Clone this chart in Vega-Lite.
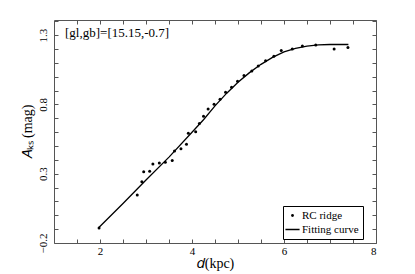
{
  "$schema": "https://vega.github.io/schema/vega-lite/v6.json",
  "width": 322,
  "height": 223,
  "autosize": "none",
  "padding": {"left": 54, "top": 20, "right": 39, "bottom": 31},
  "background": "white",
  "config": {
    "font": "Liberation Serif",
    "view": {"stroke": null},
    "axis": {
      "grid": false,
      "domainColor": "#555555",
      "tickColor": "#555555",
      "tickSize": -4,
      "labelFont": "Liberation Serif",
      "labelFontSize": 11,
      "labelColor": "black",
      "titleFont": "Liberation Serif",
      "titleFontSize": 14,
      "titleFontWeight": "normal",
      "titleColor": "black"
    }
  },
  "datasets": {
    "ridge": [
      {"d": 1.98, "A": -0.092, "series": "RC ridge"},
      {"d": 2.81, "A": 0.147, "series": "RC ridge"},
      {"d": 2.91, "A": 0.243, "series": "RC ridge"},
      {"d": 2.95, "A": 0.315, "series": "RC ridge"},
      {"d": 3.08, "A": 0.318, "series": "RC ridge"},
      {"d": 3.15, "A": 0.371, "series": "RC ridge"},
      {"d": 3.29, "A": 0.378, "series": "RC ridge"},
      {"d": 3.42, "A": 0.383, "series": "RC ridge"},
      {"d": 3.57, "A": 0.395, "series": "RC ridge"},
      {"d": 3.62, "A": 0.464, "series": "RC ridge"},
      {"d": 3.76, "A": 0.481, "series": "RC ridge"},
      {"d": 3.88, "A": 0.513, "series": "RC ridge"},
      {"d": 3.92, "A": 0.592, "series": "RC ridge"},
      {"d": 4.08, "A": 0.604, "series": "RC ridge"},
      {"d": 4.16, "A": 0.662, "series": "RC ridge"},
      {"d": 4.25, "A": 0.715, "series": "RC ridge"},
      {"d": 4.35, "A": 0.768, "series": "RC ridge"},
      {"d": 4.48, "A": 0.802, "series": "RC ridge"},
      {"d": 4.61, "A": 0.838, "series": "RC ridge"},
      {"d": 4.73, "A": 0.888, "series": "RC ridge"},
      {"d": 4.86, "A": 0.924, "series": "RC ridge"},
      {"d": 4.99, "A": 0.968, "series": "RC ridge"},
      {"d": 5.13, "A": 1.009, "series": "RC ridge"},
      {"d": 5.30, "A": 1.042, "series": "RC ridge"},
      {"d": 5.44, "A": 1.078, "series": "RC ridge"},
      {"d": 5.60, "A": 1.115, "series": "RC ridge"},
      {"d": 5.78, "A": 1.148, "series": "RC ridge"},
      {"d": 5.94, "A": 1.189, "series": "RC ridge"},
      {"d": 6.18, "A": 1.201, "series": "RC ridge"},
      {"d": 6.40, "A": 1.223, "series": "RC ridge"},
      {"d": 6.69, "A": 1.230, "series": "RC ridge"},
      {"d": 7.09, "A": 1.201, "series": "RC ridge"},
      {"d": 7.39, "A": 1.211, "series": "RC ridge"}
    ],
    "fit": [
      {"d": 1.97, "A": -0.09, "series": "Fitting curve"},
      {"d": 2.5, "A": 0.085, "series": "Fitting curve"},
      {"d": 3.0, "A": 0.255, "series": "Fitting curve"},
      {"d": 3.5, "A": 0.42, "series": "Fitting curve"},
      {"d": 4.0, "A": 0.6, "series": "Fitting curve"},
      {"d": 4.25, "A": 0.69, "series": "Fitting curve"},
      {"d": 4.5, "A": 0.79, "series": "Fitting curve"},
      {"d": 4.75, "A": 0.88, "series": "Fitting curve"},
      {"d": 5.0, "A": 0.96, "series": "Fitting curve"},
      {"d": 5.25, "A": 1.03, "series": "Fitting curve"},
      {"d": 5.5, "A": 1.09, "series": "Fitting curve"},
      {"d": 5.75, "A": 1.14, "series": "Fitting curve"},
      {"d": 6.0, "A": 1.18, "series": "Fitting curve"},
      {"d": 6.25, "A": 1.205, "series": "Fitting curve"},
      {"d": 6.5, "A": 1.222, "series": "Fitting curve"},
      {"d": 6.75, "A": 1.23, "series": "Fitting curve"},
      {"d": 7.0, "A": 1.233, "series": "Fitting curve"},
      {"d": 7.4, "A": 1.233, "series": "Fitting curve"}
    ],
    "note": [
      {"d": 1.24, "A": 1.315, "label": "[gl,gb]=[15.15,-0.7]"}
    ]
  },
  "layer": [
    {
      "data": {"name": "fit"},
      "mark": {"type": "line", "strokeWidth": 1.3},
      "encoding": {
        "x": {
          "field": "d", "type": "quantitative",
          "scale": {"domain": [1, 8], "nice": false, "zero": false},
          "axis": {
            "orient": "bottom",
            "title": "𝑑(kpc)",
            "values": [1.5, 2, 2.5, 3, 3.5, 4, 4.5, 5, 5.5, 6, 6.5, 7, 7.5, 8],
            "labelExpr": "datum.value % 2 == 0 ? format(datum.value, 'd') : ''",
            "labelPadding": 6,
            "titlePadding": 0
          }
        },
        "y": {
          "field": "A", "type": "quantitative",
          "scale": {"domain": [-0.2, 1.41], "nice": false, "zero": false},
          "axis": {
            "orient": "left",
            "title": "𝐴ₖₛ (mag)",
            "values": [-0.2, -0.1, 0, 0.1, 0.2, 0.3, 0.4, 0.5, 0.6, 0.7, 0.8, 0.9, 1.0, 1.1, 1.2, 1.3, 1.4],
            "labelExpr": "indexof([-0.2, 0.3, 0.8, 1.3], datum.value) >= 0 ? format(datum.value, '.1f') : ''",
            "labelAngle": -90,
            "labelAlign": "center",
            "labelBaseline": "bottom",
            "labelPadding": 10,
            "titlePadding": 3
          }
        },
        "color": {
          "field": "series", "type": "nominal",
          "scale": {"domain": ["RC ridge", "Fitting curve"], "range": ["black", "black"]},
          "legend": {
            "title": null,
            "orient": "none",
            "legendX": 229,
            "legendY": 186,
            "strokeColor": "black",
            "padding": 4,
            "fillColor": "white",
            "labelFont": "Liberation Serif",
            "labelFontSize": 11,
            "labelColor": "black",
            "symbolSize": 60,
            "rowPadding": 2,
            "encode": {
              "symbols": {
                "update": {
                  "shape": {"signal": "datum.value === 'RC ridge' ? 'circle' : 'stroke'"},
                  "size": {"signal": "datum.value === 'RC ridge' ? 8 : 200"},
                  "fill": {"signal": "datum.value === 'RC ridge' ? 'black' : 'transparent'"},
                  "stroke": {"value": "black"},
                  "strokeWidth": {"signal": "datum.value === 'RC ridge' ? 0 : 1.5"}
                }
              }
            }
          }
        }
      }
    },
    {
      "data": {"name": "ridge"},
      "mark": {"type": "point", "filled": true, "size": 9, "opacity": 1},
      "encoding": {
        "x": {
          "field": "d", "type": "quantitative",
          "scale": {"domain": [1, 8], "nice": false, "zero": false},
          "axis": {
            "orient": "top",
            "title": null,
            "labels": false,
            "values": [1.5, 2, 2.5, 3, 3.5, 4, 4.5, 5, 5.5, 6, 6.5, 7, 7.5, 8]
          }
        },
        "y": {
          "field": "A", "type": "quantitative",
          "scale": {"domain": [-0.2, 1.41], "nice": false, "zero": false},
          "axis": {
            "orient": "right",
            "title": null,
            "labels": false,
            "values": [-0.2, -0.1, 0, 0.1, 0.2, 0.3, 0.4, 0.5, 0.6, 0.7, 0.8, 0.9, 1.0, 1.1, 1.2, 1.3, 1.4]
          }
        },
        "color": {"field": "series", "type": "nominal"}
      }
    },
    {
      "data": {"name": "note"},
      "mark": {"type": "text", "align": "left", "baseline": "middle", "fontSize": 13, "font": "Liberation Serif", "color": "black"},
      "encoding": {
        "x": {"field": "d", "type": "quantitative", "axis": null},
        "y": {"field": "A", "type": "quantitative", "axis": null},
        "text": {"field": "label"}
      }
    }
  ],
  "resolve": {"axis": {"x": "independent", "y": "independent"}}
}
